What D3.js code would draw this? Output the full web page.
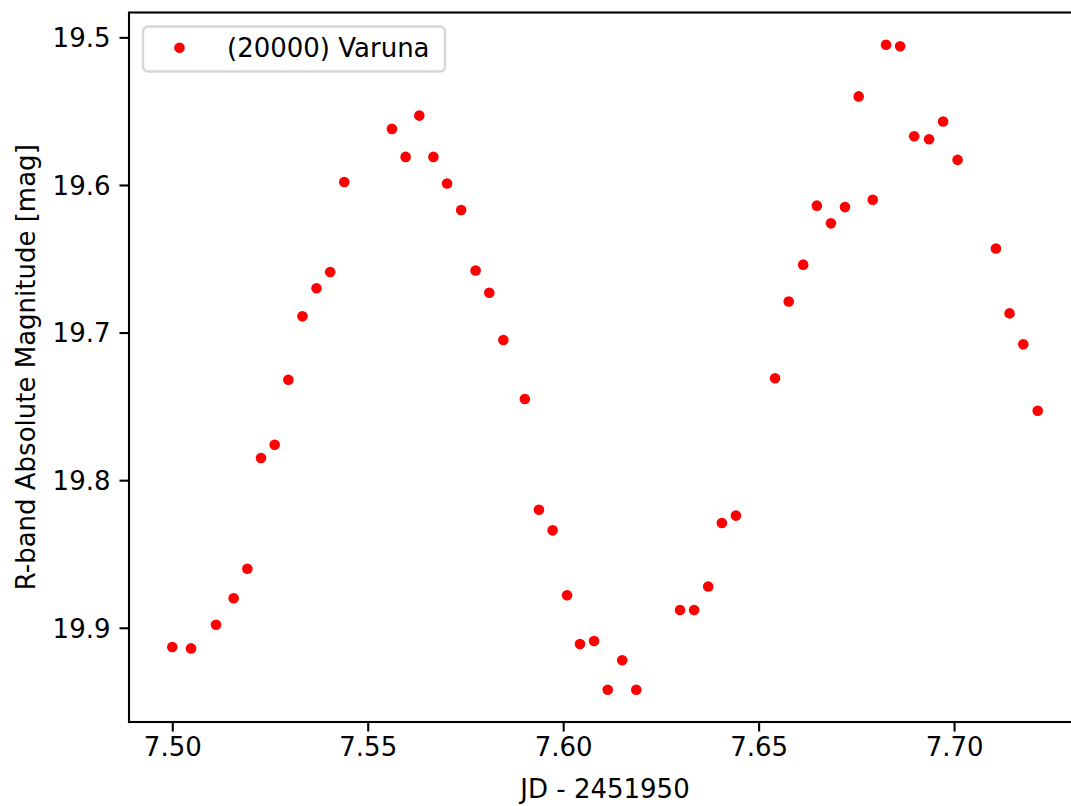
<!DOCTYPE html>
<html>
<head>
<meta charset="utf-8">
<script src="https://cdn.jsdelivr.net/npm/d3@7"></script>
<style>
  body { margin: 0; background: #fff; }
  svg { display: block; font-family: "DejaVu Sans", sans-serif; }
</style>
</head>
<body>
<div id="chart"></div>
<script>
// JD - 2451950 and R-band absolute magnitude
const times = [
    7.5000, 7.5048, 7.5112, 7.5157, 7.5192, 7.5227, 7.5262, 7.5297, 7.5333, 7.5369,
    7.5404, 7.5440, 7.5562, 7.5597, 7.5632, 7.5668, 7.5703, 7.5739, 7.5776, 7.5811,
    7.5847, 7.5902, 7.5938, 7.5973, 7.6010, 7.6043, 7.6079, 7.6114, 7.6151, 7.6187,
    7.6299, 7.6335, 7.6371, 7.6406, 7.6442, 7.6542, 7.6577, 7.6614, 7.6649, 7.6685,
    7.6721, 7.6756, 7.6792, 7.6826, 7.6862, 7.6898, 7.6936, 7.6972, 7.7009, 7.7107,
    7.7142, 7.7177, 7.7214
];
const mags = [
    19.913, 19.914, 19.898, 19.880, 19.860, 19.785, 19.776, 19.732, 19.689, 19.670,
    19.659, 19.598, 19.562, 19.581, 19.553, 19.581, 19.599, 19.617, 19.658, 19.673,
    19.705, 19.745, 19.820, 19.834, 19.878, 19.911, 19.909, 19.942, 19.922, 19.942,
    19.888, 19.888, 19.872, 19.829, 19.824, 19.731, 19.679, 19.654, 19.614, 19.626,
    19.615, 19.540, 19.610, 19.505, 19.506, 19.567, 19.569, 19.557, 19.583, 19.643,
    19.687, 19.708, 19.753
];
const xTicks = [7.50, 7.55, 7.60, 7.65, 7.70];
const yTicks = [19.5, 19.6, 19.7, 19.8, 19.9];
const seriesName = '(20000) Varuna';

const width = 1071, height = 806;
const fontSize = 26;
const box = { left: 129, right: 1081, top: 12.5, bottom: 722 };

let svg = d3.select('#chart').append('svg')
    .attr('width', width)
    .attr('height', height);

function padded(values) {
    let [lo, hi] = d3.extent(values);
    let pad = (hi - lo) * 0.05;
    return [lo - pad, hi + pad];
}

let x = d3.scaleLinear().domain(padded(times)).range([box.left, box.right]);
let y = d3.scaleLinear().domain(padded(mags)).range([box.top, box.bottom]);   // inverted magnitude axis

// points
svg.append('g')
    .selectAll('circle')
    .data(times)
    .enter().append('circle')
    .attr('cx', d => x(d))
    .attr('cy', (d, i) => y(mags[i]))
    .attr('r', 5.3)
    .attr('fill', '#ff0000');

// axes
let xAxis = svg.append('g')
    .attr('transform', `translate(0,${box.bottom})`)
    .call(d3.axisBottom(x).tickValues(xTicks).tickFormat(d3.format('.2f')).tickSize(9.5).tickPadding(6));

let yAxis = svg.append('g')
    .attr('transform', `translate(${box.left},0)`)
    .call(d3.axisLeft(y).tickValues(yTicks).tickFormat(d3.format('.1f')).tickSize(9.5).tickPadding(9));

for (let ax of [xAxis, yAxis]) {
    ax.select('.domain').remove();
    ax.selectAll('.tick line').attr('stroke', '#000').attr('stroke-width', 2.1);
    ax.selectAll('.tick text')
        .attr('font-family', '"DejaVu Sans", sans-serif')
        .attr('font-size', fontSize)
        .attr('fill', '#000');
}
xAxis.selectAll('.tick text').attr('dy', '0.72em');
yAxis.selectAll('.tick text').attr('dy', '0.36em');

// frame
svg.append('rect')
    .attr('x', box.left)
    .attr('y', box.top)
    .attr('width', box.right - box.left)
    .attr('height', box.bottom - box.top)
    .attr('fill', 'none')
    .attr('stroke', '#000')
    .attr('stroke-width', 2.1);

// labels
svg.append('text')
    .text('JD - 2451950')
    .attr('x', (box.left + box.right) / 2)
    .attr('y', 798)
    .attr('text-anchor', 'middle')
    .attr('font-size', fontSize);

svg.append('text')
    .text('R-band Absolute Magnitude [mag]')
    .attr('transform', `translate(35,${(box.top + box.bottom) / 2}) rotate(-90)`)
    .attr('text-anchor', 'middle')
    .attr('font-size', fontSize);

// legend
let legend = svg.append('g');
legend.append('rect')
    .attr('x', 143)
    .attr('y', 26.5)
    .attr('width', 302)
    .attr('height', 45)
    .attr('rx', 5)
    .attr('fill', '#fff')
    .attr('fill-opacity', 0.8)
    .attr('stroke', '#d6d6d6')
    .attr('stroke-width', 2.4);
legend.append('circle')
    .attr('cx', 179.5)
    .attr('cy', 47.7)
    .attr('r', 5.3)
    .attr('fill', '#ff0000');
legend.append('text')
    .text(seriesName)
    .attr('x', 227)
    .attr('y', 57.3)
    .attr('font-size', fontSize);
</script>
</body>
</html>
